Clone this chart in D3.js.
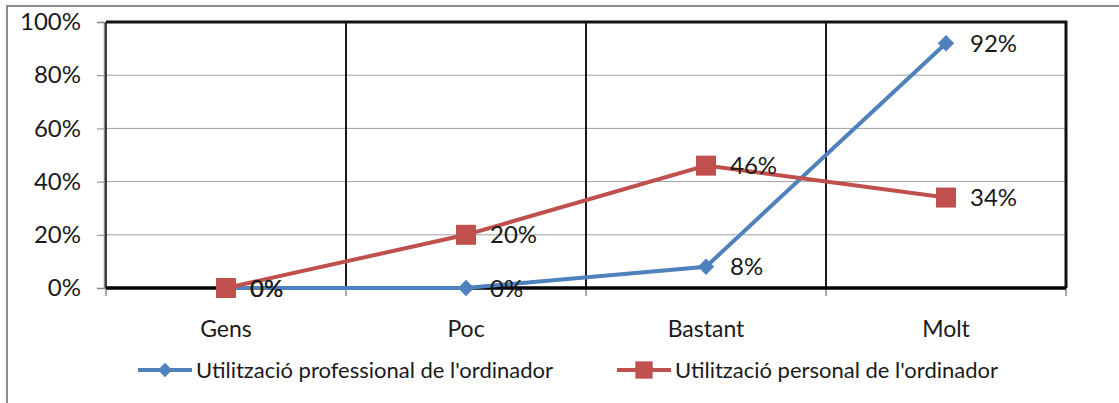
<!DOCTYPE html>
<html>
<head>
<meta charset="utf-8">
<script src="https://cdn.jsdelivr.net/npm/d3@7"></script>
<style>
  html, body { margin: 0; padding: 0; background: #fff; }
  svg { display: block; }
  text { font-family: Lato, "Open Sans", sans-serif; fill: #1a1a1a; }
</style>
</head>
<body>
<svg id="chart" width="1119" height="403"></svg>
<script>
const categories = ["Gens", "Poc", "Bastant", "Molt"];
const professional = [0, 0, 8, 92];
const personal = [0, 20, 46, 34];
const seriesNames = ["Utilització professional de l'ordinador", "Utilització personal de l'ordinador"];
const yTicks = [0, 20, 40, 60, 80, 100];

const BLUE = "#4f81bd";
const RED = "#c0504d";
const NUM_FONT = 24;   // y ticks and data labels
const CAT_FONT = 23;
const LEGEND_FONT = 22;

const svg = d3.select("#chart");
const margin = { top: 22, left: 106, right: 53, bottom: 115 };
const width = +svg.attr("width");
const height = +svg.attr("height");
const innerW = width - margin.left - margin.right;
const innerH = height - margin.top - margin.bottom;

// outer chart frame
svg.append("rect")
    .attr("x", 7).attr("y", 6)
    .attr("width", width + 10).attr("height", height + 10)
    .attr("fill", "none")
    .attr("stroke", "#8c8c8c")
    .attr("stroke-width", 2);

const x = d3.scaleBand().domain(categories).range([0, innerW]);
const y = d3.scaleLinear().domain([0, 100]).range([innerH, 0]);

const g = svg.append("g").attr("transform", `translate(${margin.left},${margin.top})`);

// horizontal gridlines
g.selectAll(".hgrid")
    .data(yTicks)
    .enter().append("line")
    .attr("x1", 0).attr("x2", innerW)
    .attr("y1", d => y(d)).attr("y2", d => y(d))
    .attr("stroke", "#a0a0a0")
    .attr("stroke-width", 1);

// vertical category gridlines
g.selectAll(".vgrid")
    .data(categories.slice(1))
    .enter().append("line")
    .attr("x1", d => x(d)).attr("x2", d => x(d))
    .attr("y1", 0).attr("y2", innerH)
    .attr("stroke", "#000")
    .attr("stroke-width", 1.8);

// y axis
const yAxis = g.append("g")
    .attr("transform", "translate(-2,0)")
    .call(d3.axisLeft(y).tickValues(yTicks).tickSize(7).tickPadding(16).tickFormat(d => d + "%"));
yAxis.select(".domain").attr("stroke", "#888").attr("stroke-width", 1.5);
yAxis.selectAll(".tick line").attr("stroke", "#888");
yAxis.selectAll("text").style("font-size", NUM_FONT + "px").attr("fill", "#1a1a1a");

// x axis
const xAxis = g.append("g")
    .attr("transform", `translate(0,${innerH})`)
    .call(d3.axisBottom(x).tickSize(0).tickPadding(33));
xAxis.select(".domain").remove();
xAxis.selectAll("text").style("font-size", CAT_FONT + "px").attr("fill", "#1a1a1a");

g.selectAll(".xtick")
    .data(categories.map(c => x(c)).concat([innerW]))
    .enter().append("line")
    .attr("x1", d => d).attr("x2", d => d)
    .attr("y1", innerH).attr("y2", innerH + 8)
    .attr("stroke", "#555")
    .attr("stroke-width", 1);

// plot border
g.append("path")
    .attr("d", `M0,0H${innerW}V${innerH}`)
    .attr("fill", "none")
    .attr("stroke", "#111")
    .attr("stroke-width", 3);
g.append("line")
    .attr("x1", 0).attr("x2", 0).attr("y1", 0).attr("y2", innerH)
    .attr("stroke", "#111").attr("stroke-width", 1.6);
g.append("line")
    .attr("x1", 0).attr("x2", innerW).attr("y1", innerH).attr("y2", innerH)
    .attr("stroke", "#000").attr("stroke-width", 3.5);

const cx = d => x(d) + x.bandwidth() / 2;
const line = d3.line()
    .x((d, i) => cx(categories[i]))
    .y(d => y(d));

const diamond = d3.symbol().type(d3.symbolDiamond2).size(170);
const square = d3.symbol().type(d3.symbolSquare).size(400);

// professional series
g.append("path")
    .datum(professional)
    .attr("d", line)
    .attr("fill", "none")
    .attr("stroke", BLUE)
    .attr("stroke-width", 4);
g.selectAll(".pro-pt")
    .data(professional)
    .enter().append("path")
    .attr("d", diamond)
    .attr("transform", (d, i) => `translate(${cx(categories[i])},${y(d)})`)
    .attr("fill", BLUE);

// personal series
g.append("path")
    .datum(personal)
    .attr("d", line)
    .attr("fill", "none")
    .attr("stroke", RED)
    .attr("stroke-width", 4);
g.selectAll(".per-pt")
    .data(personal)
    .enter().append("path")
    .attr("d", square)
    .attr("transform", (d, i) => `translate(${cx(categories[i])},${y(d)})`)
    .attr("fill", RED);

// data labels
[professional, personal].forEach(values => {
    g.selectAll(null)
        .data(values)
        .enter().append("text")
        .attr("x", (d, i) => cx(categories[i]) + 24)
        .attr("y", d => y(d))
        .attr("dy", "0.36em")
        .style("font-size", NUM_FONT + "px")
        .text(d => d + "%");
});

// legend
const legendItems = [
    { name: seriesNames[0], color: BLUE, symbol: d3.symbol().type(d3.symbolDiamond2).size(130), x: 138 },
    { name: seriesNames[1], color: RED, symbol: d3.symbol().type(d3.symbolSquare).size(300), x: 617 }
];
const legendY = 370;
legendItems.forEach(item => {
    const lg = svg.append("g").attr("transform", `translate(${item.x},${legendY})`);
    lg.append("line")
        .attr("x1", 0).attr("x2", 54)
        .attr("stroke", item.color)
        .attr("stroke-width", 4);
    lg.append("path")
        .attr("d", item.symbol())
        .attr("transform", "translate(27,0)")
        .attr("fill", item.color);
    lg.append("text")
        .attr("x", 58)
        .attr("dy", "0.36em")
        .style("font-size", LEGEND_FONT + "px")
        .text(item.name);
});
</script>
</body>
</html>
